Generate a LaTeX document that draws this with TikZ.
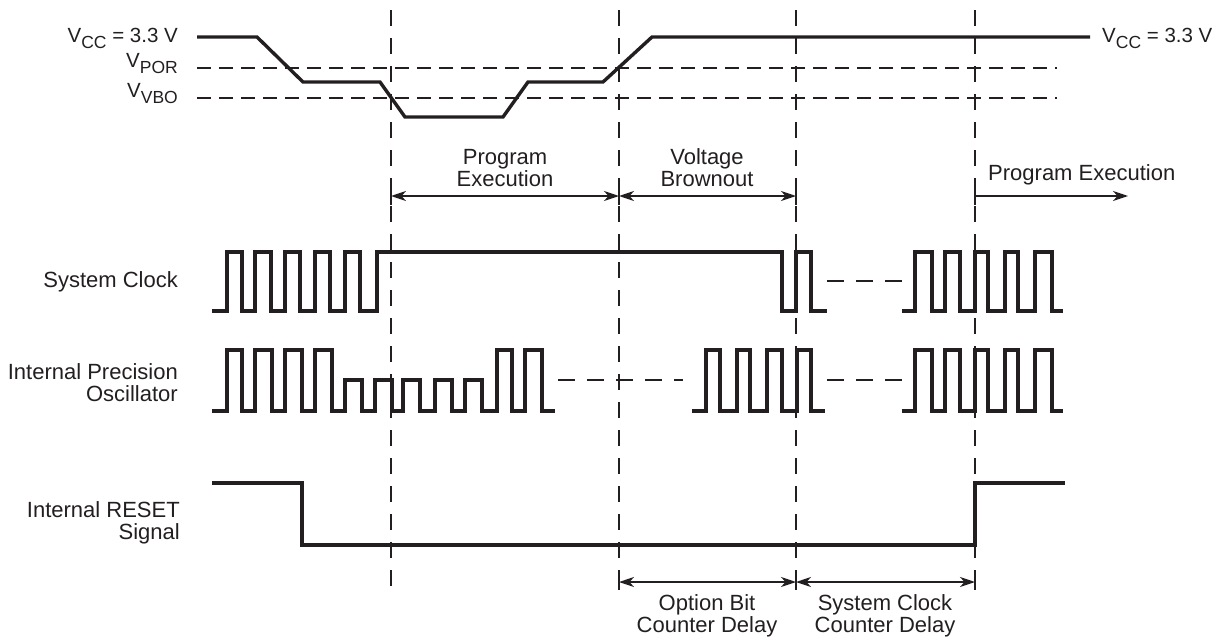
\documentclass[tikz,border=0pt]{standalone}
\usepackage{fontspec}
\setmainfont{Liberation Sans}
\usetikzlibrary{arrows.meta}
\definecolor{ink}{RGB}{35,31,32}
\newcommand{\Vsub}[1]{V\raisebox{-6.5pt}{\fontsize{17.5}{17.5}\selectfont #1}}
\begin{document}
\begin{tikzpicture}[x=1pt,y=-1pt,line join=miter,
  wave/.style={ink,line width=3.4pt},
  clk/.style={ink,line width=3.2pt},
  vdash/.style={ink,line width=2.2pt,dash pattern=on 16pt off 12pt},
  hdash/.style={ink,line width=2.2pt,dash pattern=on 14pt off 8pt},
  mdash/.style={ink,line width=2.2pt,dash pattern=on 17pt off 12pt},
  dim/.style={ink,line width=1.8pt,{Stealth[length=15pt,width=10pt,inset=4.5pt]}-{Stealth[length=15pt,width=10pt,inset=4.5pt]}},
  dimr/.style={ink,line width=1.8pt,-{Stealth[length=15pt,width=10pt,inset=4.5pt]}},
  tickmark/.style={ink,line width=2.2pt},
  lbl/.style={font=\fontsize{22}{22}\selectfont,text=ink,inner sep=0pt,align=center},
  vlbl/.style={font=\fontsize{20.5}{21}\selectfont,text=ink,inner sep=0pt}]
\useasboundingbox (0,0) rectangle (1229,637);

% vertical dashed lines
\foreach \x in {391,619,796,975} {\draw[vdash] (\x,10) -- (\x,590);}

% threshold dashed lines
\draw[hdash] (197,68) -- (1057,68);
\draw[hdash] (197,98) -- (1057,98);

% VCC waveform
\draw[wave] (197,37) -- (257,37) -- (303,82) -- (380,82) -- (405,117) -- (503,117) -- (528,82) -- (603,82) -- (652,37) -- (1090,37);

% labels for voltages
\node[vlbl,anchor=base east] (vccl) at (178,42) {\Vsub{CC} = 3.3 V};
\node[vlbl,anchor=base east] (vpor) at (178,67) {\Vsub{POR}};
\node[vlbl,anchor=base east] (vvbo) at (178,97) {\Vsub{VBO}};
\node[vlbl,anchor=base west] (vccr) at (1102,42) {\Vsub{CC} = 3.3 V};

% upper dimension arrows
\coordinate (a1) at (391,196);
\coordinate (a2) at (619,196);
\coordinate (a3) at (796,196);
\coordinate (a4) at (975,196);
\coordinate (a5) at (1128,196);
\draw[dim] (a1) -- (a2);
\draw[dim] (a2) -- (a3);
\draw[dimr] (a4) -- (a5);
\foreach \x in {391,619,796,975} {\draw[tickmark] (\x,188) -- (\x,205);}
\node[lbl,anchor=base] (pe1) at (505,186) {Program\\Execution};
\node[lbl,anchor=base] (vb) at (707,186) {Voltage\\Brownout};
\node[lbl,anchor=base west] (pe2) at (988,180) {Program Execution};

% signal labels
\node[lbl,anchor=base east,align=right] (sc) at (178,287) {System Clock};
\node[lbl,anchor=base east,align=right] (ipo) at (178,401) {Internal Precision\\Oscillator};
\node[lbl,anchor=base east,align=right] (rst) at (180,539) {Internal RESET\\Signal};

% system clock
\draw[clk] (212,311) -- (227,311) -- (227,252) -- (242,252) -- (242,311) -- (255,311) -- (255,252) -- (271,252) -- (271,311) -- (285,311) -- (285,252) -- (300,252) -- (300,311) -- (315,311) -- (315,252) -- (330,252) -- (330,311) -- (345,311) -- (345,252) -- (360,252) -- (360,311) -- (377,311) -- (377,252) -- (782,252) -- (782,311) -- (796,311) -- (796,252) -- (811,252) -- (811,311) -- (827,311);
\draw[mdash] (827,281) -- (902,281);

% oscillator
\draw[clk] (212,411) -- (227,411) -- (227,350) -- (242,350) -- (242,411) -- (255,411) -- (255,350) -- (272,350) -- (272,411) -- (285,411) -- (285,350) -- (302,350) -- (302,411) -- (315,411) -- (315,350) -- (332,350) -- (332,411) -- (345,411) -- (345,380) -- (362,380) -- (362,411) -- (375,411) -- (375,380) -- (392,380) -- (392,411) -- (403,411) -- (403,380) -- (420,380) -- (420,411) -- (435,411) -- (435,380) -- (452,380) -- (452,411) -- (465,411) -- (465,380) -- (482,380) -- (482,411) -- (497,411) -- (497,350) -- (512,350) -- (512,411) -- (525,411) -- (525,350) -- (542,350) -- (542,411) -- (555,411);
\draw[mdash] (558,380) -- (683,380);
\draw[clk] (692,411) -- (706,411) -- (706,350) -- (720,350) -- (720,411) -- (737,411) -- (737,350) -- (750,350) -- (750,411) -- (767,411) -- (767,350) -- (782,350) -- (782,411) -- (797,411) -- (797,350) -- (811,350) -- (811,411) -- (825,411);
\draw[mdash] (827,380) -- (902,380);

% right part of both clocks
\foreach \H/\L in {252/311,350/411} {
  \draw[clk] (902,\L) -- (915,\L) -- (915,\H) -- (932,\H) -- (932,\L) -- (945,\L) -- (945,\H) -- (960,\H) -- (960,\L) -- (975,\L) -- (975,\H) -- (988,\H) -- (988,\L) -- (1005,\L) -- (1005,\H) -- (1018,\H) -- (1018,\L) -- (1035,\L) -- (1035,\H) -- (1052,\H) -- (1052,\L) -- (1063,\L);
}

% reset
\draw[wave] (212,483) -- (302,483) -- (302,545) -- (975,545) -- (975,483) -- (1065,483);

% lower dimension arrows
\coordinate (b1) at (619,582);
\coordinate (b2) at (796,582);
\coordinate (b3) at (975,582);
\draw[dim] (b1) -- (b2);
\draw[dim] (b2) -- (b3);
\foreach \x in {619,796,975} {\draw[tickmark] (\x,574) -- (\x,590);}
\node[lbl,anchor=base] (obc) at (707,632) {Option Bit\\Counter Delay};
\node[lbl,anchor=base] (scc) at (885,632) {System Clock\\Counter Delay};
\end{tikzpicture}
\end{document}
